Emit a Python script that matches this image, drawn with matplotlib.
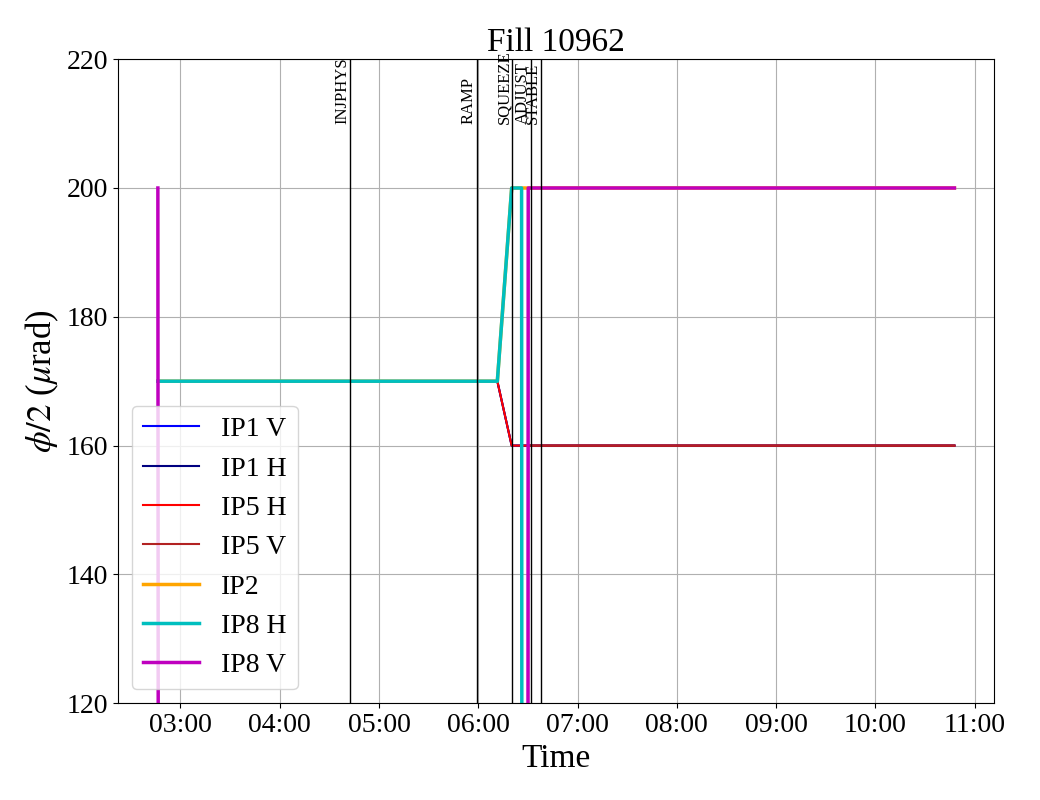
import pandas as pd
import matplotlib
matplotlib.use("Agg")
import matplotlib.pyplot as plt
import matplotlib.dates as mdates

plt.rcParams["font.family"] = ["Liberation Serif", "DejaVu Serif"]
plt.rcParams["mathtext.fontset"] = "stix"

# time grid shared by all series (HH:MM:SS on the fill day)
times = ["02:46:20", "02:46:50", "06:11:30", "06:20:10", "06:26:10",
         "06:26:30", "06:29:50", "06:30:10", "10:47:45"]

# half crossing angles in urad (values far below 120 are off-scale)
ip1_v = [170, 170, 170, 160, 160, 160, 160, 160, 160]
ip1_h = [170, 170, 170, 160, 160, 160, 160, 160, 160]
ip5_h = [170, 170, 170, 160, 160, 160, 160, 160, 160]
ip5_v = [0, 0, 0, 0, 0, 0, 0, 160, 160]
ip2 = [170, 170, 170, 200, 200, 200, 200, 200, 200]
ip8_h = [170, 170, 170, 200, 200, 0, 0, 0, 0]
ip8_v = [200, 0, 0, 0, 0, 0, 0, 200, 200]

# beam mode changes
modes = ["INJPHYS", "RAMP", "SQUEEZE", "ADJUST", "STABLE"]
mode_times = ["04:42:40", "05:59:10", "06:20:20", "06:32:00", "06:38:00"]

day = "2025-07-20 "
t = pd.to_datetime([day + s for s in times])
tm = pd.to_datetime([day + s for s in mode_times])

series = [
    ("IP1 V", ip1_v, "blue", 1.5),
    ("IP1 H", ip1_h, "navy", 1.5),
    ("IP5 H", ip5_h, "red", 1.5),
    ("IP5 V", ip5_v, "firebrick", 1.5),
    ("IP2", ip2, "orange", 2.5),
    ("IP8 H", ip8_h, "c", 2.5),
    ("IP8 V", ip8_v, "m", 2.5),
]

fig, ax = plt.subplots(figsize=(10.4, 8), dpi=100)
fig.subplots_adjust(left=0.1135, right=0.956, top=0.926, bottom=0.121)

for name, vals, col, lw in series:
    ax.plot(t, vals, color=col, lw=lw, label=name)

# mode labels start at 210 and run upwards, like the logbook plots
for m, x in zip(modes, tm):
    ax.axvline(x, color="black", lw=1)
    ax.text(x, 210, m, rotation=90, ha="right", va="bottom", fontsize=12)

ax.set_ylim(120, 220)
ax.xaxis.set_major_locator(mdates.HourLocator())
ax.xaxis.set_major_formatter(mdates.DateFormatter("%H:%M"))
ax.tick_params(labelsize=20)
ax.grid(True)
ax.set_xlabel("Time", fontsize=24)
ax.set_ylabel(r"$\phi/2$ ($\mu$rad)", fontsize=25)
ax.set_title("Fill 10962", fontsize=24)
ax.legend(loc="lower left", fontsize=20)

plt.savefig("out.png")
